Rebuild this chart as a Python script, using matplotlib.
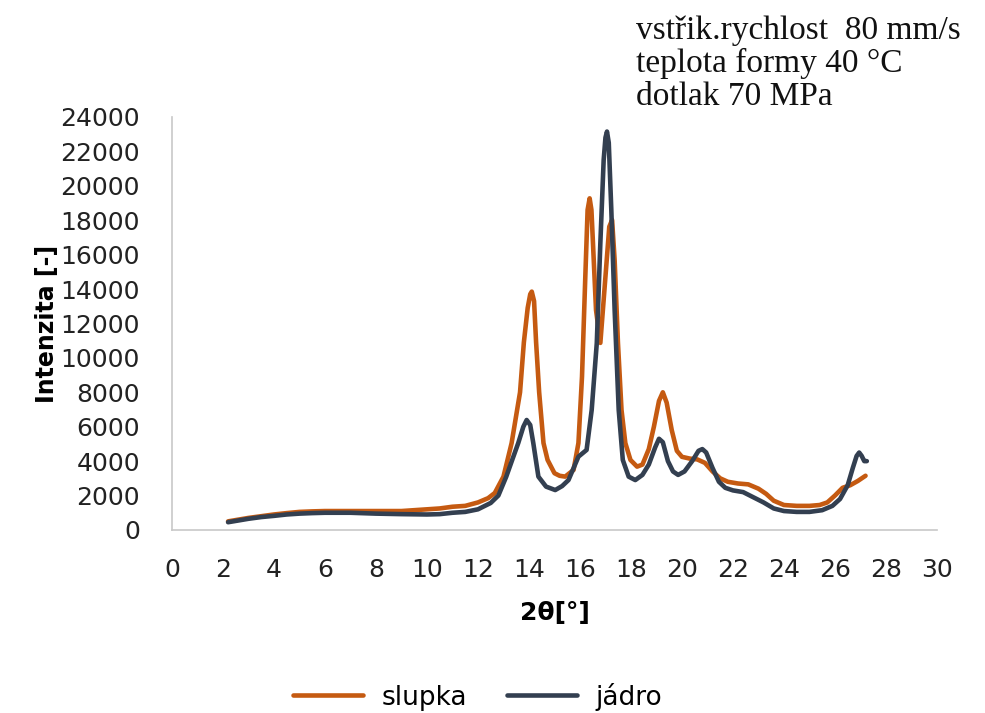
import matplotlib.pyplot as plt

plt.rcParams['font.family'] = ['DejaVu Sans']

# slupka (skin layer)
x_slupka = [2.2, 2.6, 3.0, 3.5, 4.0, 4.5, 5.0, 5.5, 6.0, 7.0, 8.0, 9.0, 10.0, 10.5,
            11.0, 11.5, 12.0, 12.4, 12.66, 13.0, 13.32, 13.65, 13.8, 13.95, 14.05, 14.11,
            14.2, 14.28, 14.4, 14.57, 14.73, 15.0, 15.2, 15.42, 15.75, 15.94, 16.08, 16.21,
            16.3, 16.38, 16.45, 16.51, 16.63, 16.8, 17.0, 17.15, 17.26, 17.36, 17.49,
            17.63, 17.78, 17.98, 18.24, 18.45, 18.7, 18.9, 19.1, 19.25, 19.4,
            19.6, 19.8, 20.0, 20.3, 20.6, 20.9, 21.2, 21.5, 21.8, 22.2, 22.6, 23.0,
            23.3, 23.6, 24.0, 24.5, 25.0, 25.4, 25.7, 26.0, 26.3, 26.6, 26.9, 27.2]
y_slupka = [500, 600, 700, 800, 900, 980, 1050, 1080, 1100, 1100, 1100, 1100, 1200, 1250,
            1350, 1400, 1600, 1850, 2150, 3100, 5050, 8000, 10900, 12900, 13700, 13850,
            13300, 10900, 8000, 5050, 4070, 3300, 3150, 3100, 3490, 5050, 8900, 14720,
            18600, 19270, 18600, 16680, 12780, 10870, 14720, 17620, 18010, 15690, 10870,
            6970, 5050, 4070, 3680, 3800, 4700, 6000, 7500, 8000, 7400,
            5800, 4600, 4250, 4150, 4100, 3900, 3400, 3000, 2800, 2700, 2650, 2400,
            2100, 1700, 1450, 1400, 1400, 1450, 1600, 2000, 2450, 2600, 2850, 3150]

# jadro (core)
x_jadro = [2.2, 2.6, 3.0, 3.5, 4.0, 4.5, 5.0, 5.5, 6.0, 7.0, 8.0, 9.0, 10.0, 10.5,
           11.0, 11.5, 12.0, 12.5, 12.8, 13.11, 13.35, 13.58, 13.78, 13.91, 14.05, 14.17,
           14.37, 14.67, 15.03, 15.3, 15.55, 15.94, 16.26, 16.46, 16.66, 16.8,
           16.93, 17.0, 17.06, 17.13, 17.23, 17.36, 17.52, 17.68, 17.91, 18.17, 18.45,
           18.7, 18.95, 19.1, 19.25, 19.45, 19.65, 19.85, 20.1, 20.4, 20.65, 20.8, 20.95,
           21.2, 21.45, 21.7, 22.0, 22.4, 22.8, 23.2, 23.6, 24.0, 24.5, 25.0, 25.5,
           25.9, 26.2, 26.5, 26.7, 26.85, 26.95, 27.05, 27.15, 27.25]
y_jadro = [450, 550, 650, 750, 820, 900, 950, 980, 1000, 1000, 950, 920, 900, 920,
           1000, 1050, 1200, 1570, 2000, 3100, 4100, 5050, 6000, 6390, 6100, 5050,
           3100, 2520, 2320, 2550, 2900, 4260, 4650, 6970, 10860, 16680,
           21500, 22800, 23150, 22500, 18590, 12780, 6970, 4070, 3100, 2900, 3200,
           3800, 4800, 5300, 5100, 4000, 3400, 3200, 3400, 4000, 4600, 4700, 4500,
           3600, 2800, 2450, 2300, 2200, 1900, 1600, 1250, 1100, 1050, 1050, 1150,
           1400, 1800, 2600, 3600, 4300, 4500, 4300, 4000, 4000]

fig = plt.figure(figsize=(9.85, 7.13), dpi=100)
ax = fig.add_axes([0.1746, 0.2567, 0.7766, 0.5793])

ax.plot(x_slupka, y_slupka, color='#C55A11', lw=3.3, label='slupka',
        solid_joinstyle='round', solid_capstyle='round')
ax.plot(x_jadro, y_jadro, color='#333F50', lw=3.3, label='jádro',
        solid_joinstyle='round', solid_capstyle='round')

ax.set_xlim(0, 30)
ax.set_ylim(0, 24000)
ax.set_xticks(range(0, 31, 2))
ax.set_yticks(range(0, 24001, 2000))
ax.tick_params(length=0, labelsize=18, colors='#222222')
ax.tick_params(axis='x', pad=20)
ax.tick_params(axis='y', pad=23)

for side in ('top', 'right'):
    ax.spines[side].set_visible(False)
for side in ('left', 'bottom'):
    ax.spines[side].set_color('#C8C8C8')
    ax.spines[side].set_linewidth(1.2)

ax.set_xlabel('2θ[°]', fontsize=18, fontweight='bold', labelpad=14)
ax.set_ylabel('Intenzita [-]', fontsize=17, fontweight='bold', labelpad=1)

fig.text(0.646, 0.978, 'vstřik.rychlost  80 mm/s\nteplota formy 40 °C\ndotlak 70 MPa',
         family='Liberation Serif', fontsize=24, va='top', ha='left',
         linespacing=1.08, color='#111111')

fig.legend(loc='lower center', bbox_to_anchor=(0.485, -0.03), ncol=2, frameon=False,
           fontsize=19, handlelength=2.65, columnspacing=1.5, handletextpad=0.7)

fig.savefig('out.png', dpi=100)
